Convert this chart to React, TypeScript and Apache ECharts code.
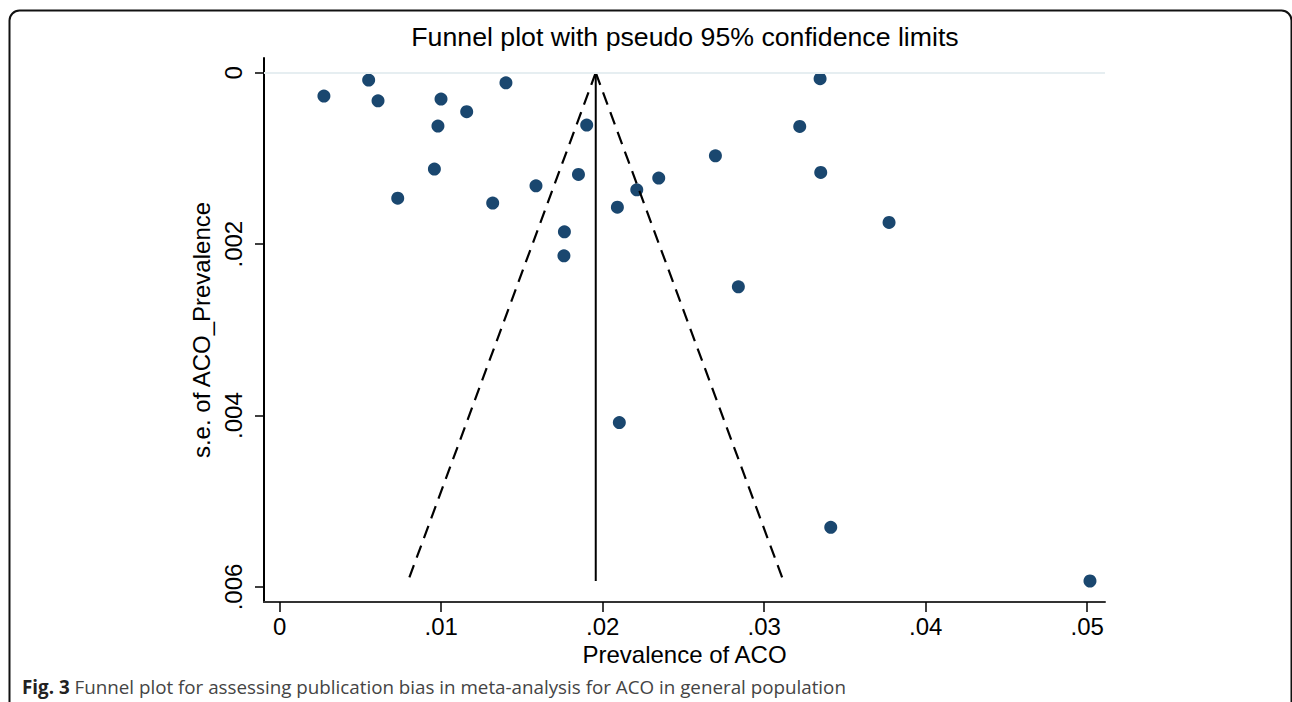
import React, { useEffect, useRef } from 'react';
import * as echarts from 'echarts';

// Study estimates
const prevalence = [
  0.00274, 0.00551, 0.00609, 0.00999, 0.0098, 0.01158, 0.01401, 0.00958, 0.00731,
  0.01319, 0.01587, 0.01901, 0.0185, 0.02211, 0.02347, 0.02091, 0.01763, 0.0176,
  0.02698, 0.03346, 0.0322, 0.0335, 0.03773, 0.0284, 0.02103, 0.03412, 0.05017,
];
const seValues = [
  0.000272, 0.000085, 0.000327, 0.000307, 0.000622, 0.000455, 0.000117, 0.001124, 0.001463,
  0.001521, 0.001319, 0.00061, 0.001186, 0.001366, 0.001229, 0.001568, 0.001856, 0.002136,
  0.000969, 0.00007, 0.000626, 0.001163, 0.001746, 0.002498, 0.004081, 0.005303, 0.00593,
];

// Funnel (pseudo 95% limits)
const pooledEstimate = 0.01957;
const funnelBottomSe = 0.00593;
const lowerLimitAtBottom = 0.00795;
const upperLimitAtBottom = 0.03119;

const xTicks = [0, 0.01, 0.02, 0.03, 0.04, 0.05];
const xTickLabels = ['0', '.01', '.02', '.03', '.04', '.05'];
const yTicks = [0, 0.002, 0.004, 0.006];
const yTickLabels = ['0', '.002', '.004', '.006'];

const titleText = 'Funnel plot with pseudo 95% confidence limits';
const xAxisTitle = 'Prevalence of ACO';
const yAxisTitle = 's.e. of ACO_Prevalence';
const captionBold = 'Fig. 3';
const captionText = ' Funnel plot for assessing publication bias in meta-analysis for ACO in general population';

const FONT = '"Liberation Sans", Arial, Helvetica, sans-serif';

const labelFor = (ticks: number[], labels: string[]) => (v: number) => {
  const i = ticks.findIndex((t) => Math.abs(t - v) < 1e-9);
  return i >= 0 ? labels[i] : '';
};

export default function App() {
  const ref = useRef<HTMLDivElement>(null);

  useEffect(() => {
    document.body.style.margin = '0';
    if (!ref.current) return;
    const chart = echarts.init(ref.current, undefined, { renderer: 'svg' });

    const points = prevalence.map((p, i) => [p, seValues[i]]);

    chart.setOption({
      animation: false,
      backgroundColor: '#ffffff',
      title: {
        text: titleText,
        left: 680,
        top: 18,
        textAlign: 'center',
        textStyle: { fontFamily: FONT, fontSize: 26.7, fontWeight: 'normal', color: '#000' },
      },
      grid: {
        left: 264,
        top: 58,
        width: 841,
        height: 544,
        containLabel: false,
        outerBoundsMode: 'none',
      },
      xAxis: {
        type: 'value',
        min: -0.00097,
        max: 0.0511,
        name: xAxisTitle,
        nameLocation: 'middle',
        nameGap: 33,
        nameTextStyle: { fontFamily: FONT, fontSize: 24, color: '#000' },
        axisLine: { show: true, onZero: false, lineStyle: { color: '#333', width: 2 } },
        axisTick: { show: true, customValues: xTicks, length: 10, lineStyle: { color: '#000', width: 1.5 } },
        axisLabel: {
          customValues: xTicks,
          formatter: labelFor(xTicks, xTickLabels),
          fontFamily: FONT,
          fontSize: 24,
          color: '#000',
          margin: 12,
        },
        splitLine: { show: false },
      },
      yAxis: {
        type: 'value',
        inverse: true,
        min: -0.000172,
        max: 0.006175,
        name: yAxisTitle,
        nameLocation: 'middle',
        nameRotate: 90,
        nameGap: 42,
        nameTextStyle: { fontFamily: FONT, fontSize: 24, color: '#000' },
        axisLine: { show: true, onZero: false, lineStyle: { color: '#000', width: 2 } },
        axisTick: { show: true, customValues: yTicks, length: 9, lineStyle: { color: '#000', width: 1.5 } },
        axisLabel: {
          customValues: yTicks,
          formatter: labelFor(yTicks, yTickLabels),
          rotate: 90,
          fontFamily: FONT,
          fontSize: 24,
          color: '#000',
          margin: 19,
        },
        splitLine: { show: false },
      },
      series: [
        {
          type: 'line',
          name: 'grid',
          data: [],
          z: 1,
          silent: true,
          markLine: {
            silent: true,
            symbol: 'none',
            label: { show: false },
            lineStyle: { color: '#e6eef1', width: 2, type: 'solid' },
            data: yTicks.map((t) => ({ yAxis: t })),
          },
        },
        {
          type: 'scatter',
          name: 'studies',
          data: points,
          symbol: 'circle',
          symbolSize: 13,
          itemStyle: { color: '#1a476f', opacity: 1 },
          z: 3,
        },
        {
          type: 'line',
          name: 'lower limit',
          data: [
            [pooledEstimate, 0],
            [lowerLimitAtBottom, funnelBottomSe],
          ],
          showSymbol: false,
          symbol: 'none',
          lineStyle: { color: '#000', width: 2.2, type: [13, 8] },
          z: 4,
        },
        {
          type: 'line',
          name: 'upper limit',
          data: [
            [pooledEstimate, 0],
            [upperLimitAtBottom, funnelBottomSe],
          ],
          showSymbol: false,
          symbol: 'none',
          lineStyle: { color: '#000', width: 2.2, type: [13, 8] },
          z: 4,
        },
        {
          type: 'line',
          name: 'pooled',
          data: [
            [pooledEstimate, 0],
            [pooledEstimate, funnelBottomSe],
          ],
          showSymbol: false,
          symbol: 'none',
          lineStyle: { color: '#000', width: 2, type: 'solid' },
          z: 4,
        },
      ],
      graphic: [
        {
          type: 'rect',
          silent: true,
          shape: { x: 9.5, y: 10.5, width: 1282, height: 900, r: 10 },
          style: { fill: 'none', stroke: '#111', lineWidth: 2 },
          z: 0,
        },
        {
          type: 'text',
          x: 22,
          y: 687,
          silent: true,
          style: {
            text: `{b|${captionBold}}{r|${captionText}}`,
            verticalAlign: 'middle',
            rich: {
              b: { fontFamily: '"Open Sans", sans-serif', fontSize: 18.8, fontWeight: 'bold', fill: '#222' },
              r: { fontFamily: '"Open Sans", sans-serif', fontSize: 18.8, fill: '#444' },
            },
          },
        },
      ],
    });

    return () => chart.dispose();
  }, []);

  return <div ref={ref} style={{ width: 1292, height: 702 }} />;
}
